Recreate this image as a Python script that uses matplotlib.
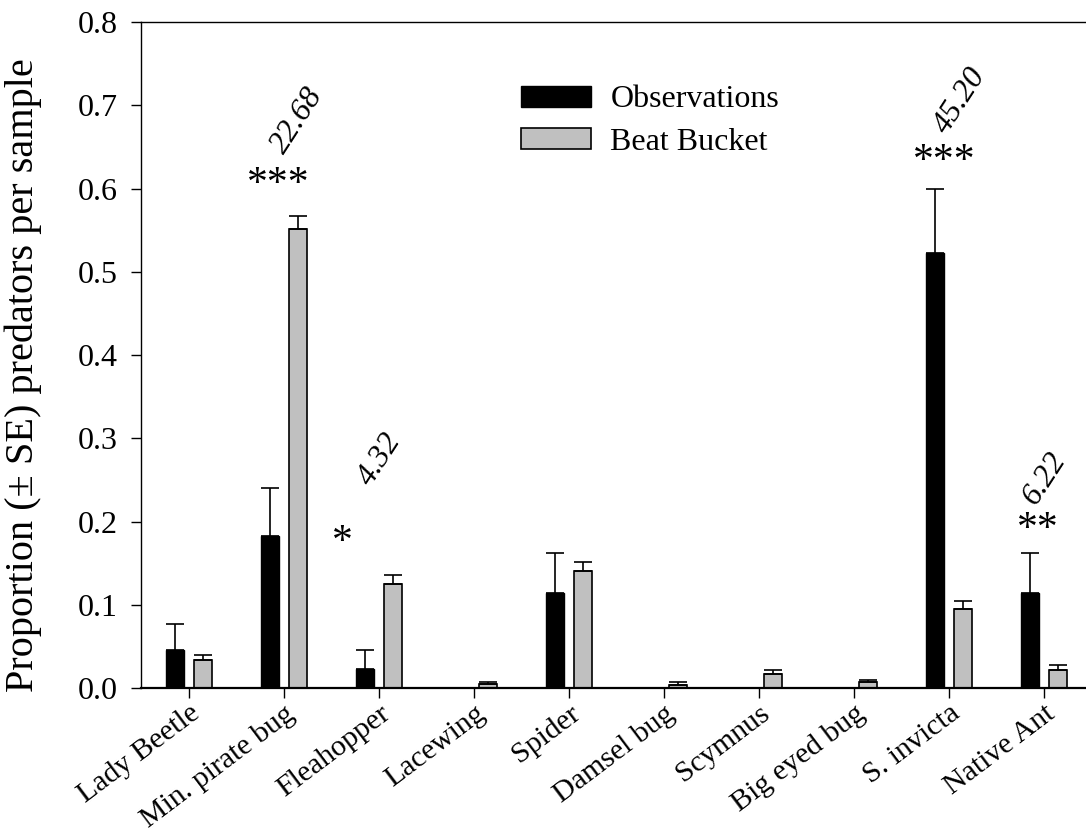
import numpy as np
import matplotlib
matplotlib.use('Agg')
import matplotlib.pyplot as plt

plt.rcParams['font.family'] = ['Liberation Serif', 'DejaVu Serif']

categories = ['Lady Beetle', 'Min. pirate bug', 'Fleahopper', 'Lacewing', 'Spider',
              'Damsel bug', 'Scymnus', 'Big eyed bug', 'S. invicta', 'Native Ant']
obs = [0.046, 0.182, 0.023, 0.0, 0.114, 0.0, 0.0, 0.0, 0.523, 0.114]
obs_se = [0.031, 0.058, 0.023, 0.0, 0.048, 0.0, 0.0, 0.0, 0.076, 0.048]
beat = [0.034, 0.551, 0.125, 0.0045, 0.140, 0.004, 0.017, 0.007, 0.095, 0.022]
beat_se = [0.006, 0.016, 0.011, 0.0023, 0.011, 0.0028, 0.0046, 0.0028, 0.010, 0.0052]

# significance: category index, stars, chi-square value
sig_idx = [1, 2, 8, 9]
sig_stars = ['***', '*', '***', '**']
sig_vals = ['22.68', '4.32', '45.20', '6.22']

obs = np.array(obs)
beat = np.array(beat)
x = np.arange(len(categories))
w = 0.19
off = 0.15

fig = plt.figure(figsize=(10.86, 8.38), dpi=100)
ax = fig.add_axes([0.1298, 0.179, 1.0 - 0.1298, 0.9737 - 0.179])

ax.bar(x - off, obs, w, color='black', edgecolor='black', linewidth=1.0, label='Observations')
ax.bar(x + off, beat, w, color='#c0c0c0', edgecolor='black', linewidth=1.2, label='Beat Bucket')

m = obs > 0
ax.errorbar((x - off)[m], obs[m], yerr=[np.zeros(m.sum()), np.array(obs_se)[m]],
            fmt='none', ecolor='black', elinewidth=1.2, capsize=6.5, capthick=1.2)
ax.errorbar(x + off, beat, yerr=[np.zeros(len(beat)), beat_se],
            fmt='none', ecolor='black', elinewidth=1.2, capsize=6.5, capthick=1.2)

# label placement relative to the tallest error bar
star_dx = [-0.06, -0.38, -0.05, -0.07]
star_dy = [0.037, 0.038, 0.033, 0.028]
val_dx = [0.14, 0.01, 0.12, 0.01]
val_dy = [0.115, 0.138, 0.107, 0.09]
for k, i in enumerate(sig_idx):
    top = max(obs[i] + obs_se[i], beat[i] + beat_se[i])
    ax.text(i + star_dx[k], top + star_dy[k], sig_stars[k], ha='center', va='center',
            fontsize=30)
    ax.text(i + val_dx[k], top + val_dy[k], sig_vals[k], ha='center', va='center',
            fontsize=23, style='italic', rotation=57)

ax.set_xlim(-0.505, 9.44)
ax.set_ylim(0, 0.8)
ax.set_yticks(np.arange(0, 0.81, 0.1))
ax.set_yticklabels(['%.1f' % t for t in np.arange(0, 0.81, 0.1)], fontsize=23)
ax.set_xticks(x)
ax.set_xticklabels(categories, fontsize=21.5, rotation=37, ha='right', va='top',
                   rotation_mode='anchor')
ax.tick_params(axis='both', direction='out', length=7, width=1.0)
ax.tick_params(axis='y', pad=10)
ax.tick_params(axis='x', pad=2)
ax.set_ylabel('Proportion (\u00b1 SE) predators per sample', fontsize=29, labelpad=10)
ax.yaxis.set_label_coords(-0.105, 0.47)

ax.spines['right'].set_visible(False)
for sp in ['left', 'bottom', 'top']:
    ax.spines[sp].set_linewidth(1.0)
ax.spines['bottom'].set_linewidth(1.6)

ax.legend(loc='upper left', bbox_to_anchor=(0.402, 0.905), frameon=False, fontsize=23,
          handlelength=2.2, handleheight=0.63, handletextpad=0.6, labelspacing=0.42,
          borderpad=0, borderaxespad=0)

fig.savefig('out.png', dpi=100)
